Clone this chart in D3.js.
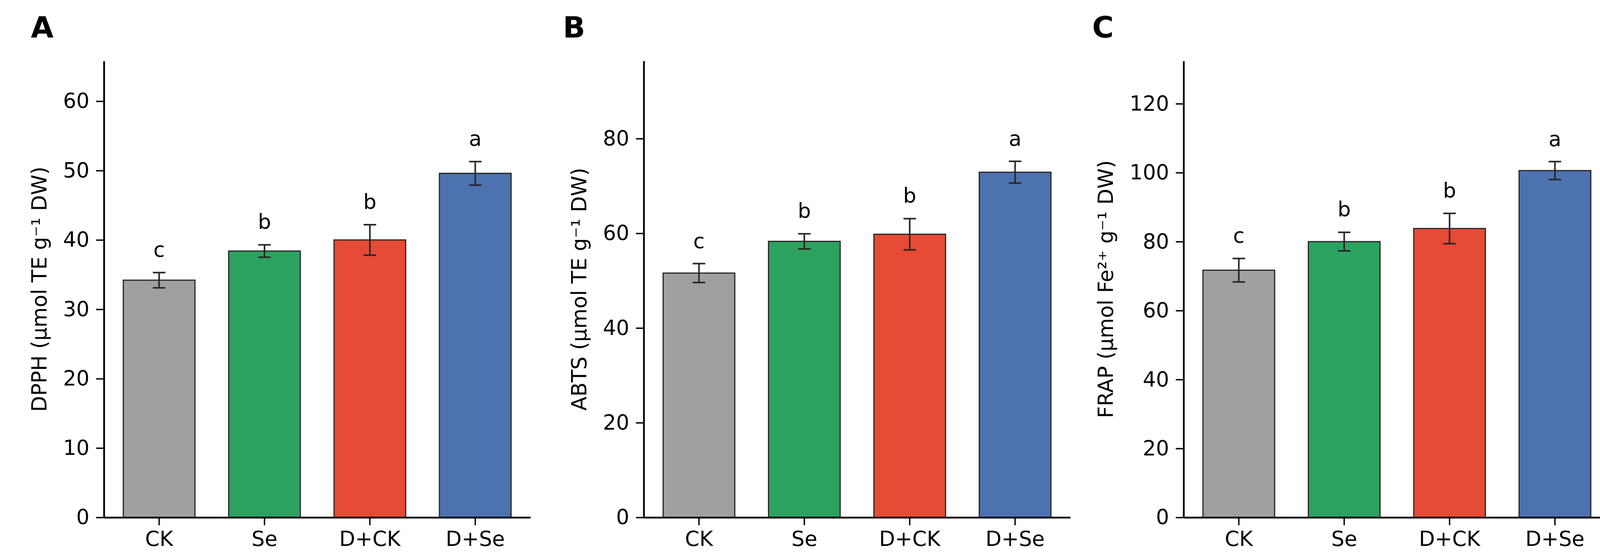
<!DOCTYPE html>
<html>
<head>
<meta charset="utf-8">
<script src="https://cdn.jsdelivr.net/npm/d3@7/dist/d3.min.js"></script>
<style>
  body { margin: 0; background: #fff; }
  svg { display: block; font-family: "DejaVu Sans", sans-serif; }
</style>
</head>
<body>
<svg id="chart"></svg>
<script>
// treatments and colours
var groups = ["CK", "Se", "D+CK", "D+Se"];
var barColors = ["#a0a0a0", "#2ca25f", "#e64b35", "#4c72b0"];

// values (mean, sd)
var dpphMean = [34.2, 38.4, 40.0, 49.6];
var dpphSd = [1.1, 0.9, 2.2, 1.7];
var abtsMean = [51.6, 58.3, 59.8, 72.9];
var abtsSd = [2.0, 1.6, 3.3, 2.3];
var frapMean = [71.7, 80.0, 83.8, 100.6];
var frapSd = [3.4, 2.7, 4.4, 2.6];

// significance letters
var dpphSig = ["c", "b", "b", "a"];
var abtsSig = ["c", "b", "b", "a"];
var frapSig = ["c", "b", "b", "a"];

// y ticks and y limits
var dpphTicks = [0, 10, 20, 30, 40, 50, 60];
var abtsTicks = [0, 20, 40, 60, 80];
var frapTicks = [0, 20, 40, 60, 80, 100, 120];
var yMax = [65.8, 96.4, 132.4];

var yLabels = ["DPPH (\u00b5mol TE g\u207b\u00b9 DW)",
               "ABTS (\u00b5mol TE g\u207b\u00b9 DW)",
               "FRAP (\u00b5mol Fe\u00b2\u207a g\u207b\u00b9 DW)"];
var panelNames = ["A", "B", "C"];

var width = 4139;
var height = 1433;
var plotTop = 156;
var plotBottom = 1324;
var plotWidth = 1092;
var panelLeft = [266, 1648, 3030];
var letterX = [79, 1441, 2796];
var fontSize = 53;
var capHalf = 16;
var ink = "#262626";

var svg = d3.select("#chart").attr("width", width).attr("height", height);

var panels = [
    {mean: dpphMean, sd: dpphSd, sig: dpphSig, ticks: dpphTicks},
    {mean: abtsMean, sd: abtsSd, sig: abtsSig, ticks: abtsTicks},
    {mean: frapMean, sd: frapSd, sig: frapSig, ticks: frapTicks}
];

panels.forEach(function (p, i) {
    var x = d3.scaleBand()
        .domain(groups)
        .range([panelLeft[i], panelLeft[i] + plotWidth])
        .paddingInner(0.32)
        .paddingOuter(0.184);
    var y = d3.scaleLinear().domain([0, yMax[i]]).range([plotBottom, plotTop]);

    var g = svg.append("g");

    // bars
    g.selectAll("rect")
        .data(groups)
        .enter()
        .append("rect")
        .attr("x", d => x(d))
        .attr("width", x.bandwidth())
        .attr("y", (d, k) => y(p.mean[k]))
        .attr("height", (d, k) => y(0) - y(p.mean[k]))
        .attr("fill", (d, k) => barColors[k])
        .attr("stroke", ink)
        .attr("stroke-width", 3);

    // error bars
    var cx = d => x(d) + x.bandwidth() / 2;
    var eb = g.selectAll(".err")
        .data(groups)
        .enter()
        .append("g")
        .attr("class", "err")
        .attr("stroke", ink)
        .attr("stroke-width", 4);
    eb.append("line")
        .attr("x1", cx).attr("x2", cx)
        .attr("y1", (d, k) => y(p.mean[k] - p.sd[k]))
        .attr("y2", (d, k) => y(p.mean[k] + p.sd[k]));
    eb.append("line")
        .attr("x1", d => cx(d) - capHalf).attr("x2", d => cx(d) + capHalf)
        .attr("y1", (d, k) => y(p.mean[k] + p.sd[k]))
        .attr("y2", (d, k) => y(p.mean[k] + p.sd[k]));
    eb.append("line")
        .attr("x1", d => cx(d) - capHalf).attr("x2", d => cx(d) + capHalf)
        .attr("y1", (d, k) => y(p.mean[k] - p.sd[k]))
        .attr("y2", (d, k) => y(p.mean[k] - p.sd[k]));

    // significance letters
    g.selectAll(".sig")
        .data(groups)
        .enter()
        .append("text")
        .attr("class", "sig")
        .attr("x", cx)
        .attr("y", (d, k) => y(p.mean[k] + p.sd[k]) - 40)
        .attr("text-anchor", "middle")
        .attr("font-size", fontSize)
        .text((d, k) => p.sig[k]);

    // axes
    var xAxis = g.append("g")
        .attr("transform", "translate(0," + plotBottom + ")")
        .call(d3.axisBottom(x).tickSize(20).tickSizeOuter(0).tickPadding(13));
    var yAxis = g.append("g")
        .attr("transform", "translate(" + panelLeft[i] + ",0)")
        .call(d3.axisLeft(y).tickValues(p.ticks).tickFormat(d3.format("d"))
            .tickSize(20).tickSizeOuter(0).tickPadding(17));

    [xAxis, yAxis].forEach(function (a) {
        a.select(".domain").attr("stroke", "#000").attr("stroke-width", 4.5);
        a.selectAll(".tick line").attr("stroke", "#000").attr("stroke-width", 3.5);
        a.selectAll(".tick text").attr("fill", "#000").attr("font-size", fontSize)
            .attr("font-family", "DejaVu Sans");
    });
    xAxis.selectAll(".tick text").attr("dy", "0.76em");

    // y label placed left of the widest tick label
    var minX = d3.min(yAxis.selectAll(".tick text").nodes(), n => n.getBBox().x) + panelLeft[i];
    g.append("text")
        .attr("transform", "translate(" + (minX - 43) + "," + ((plotTop + plotBottom) / 2) + ") rotate(-90)")
        .attr("text-anchor", "middle")
        .attr("font-size", fontSize)
        .text(yLabels[i]);

    // panel letter
    svg.append("text")
        .attr("x", letterX[i])
        .attr("y", 96)
        .attr("font-size", 75)
        .attr("font-weight", "bold")
        .text(panelNames[i]);
});
</script>
</body>
</html>
